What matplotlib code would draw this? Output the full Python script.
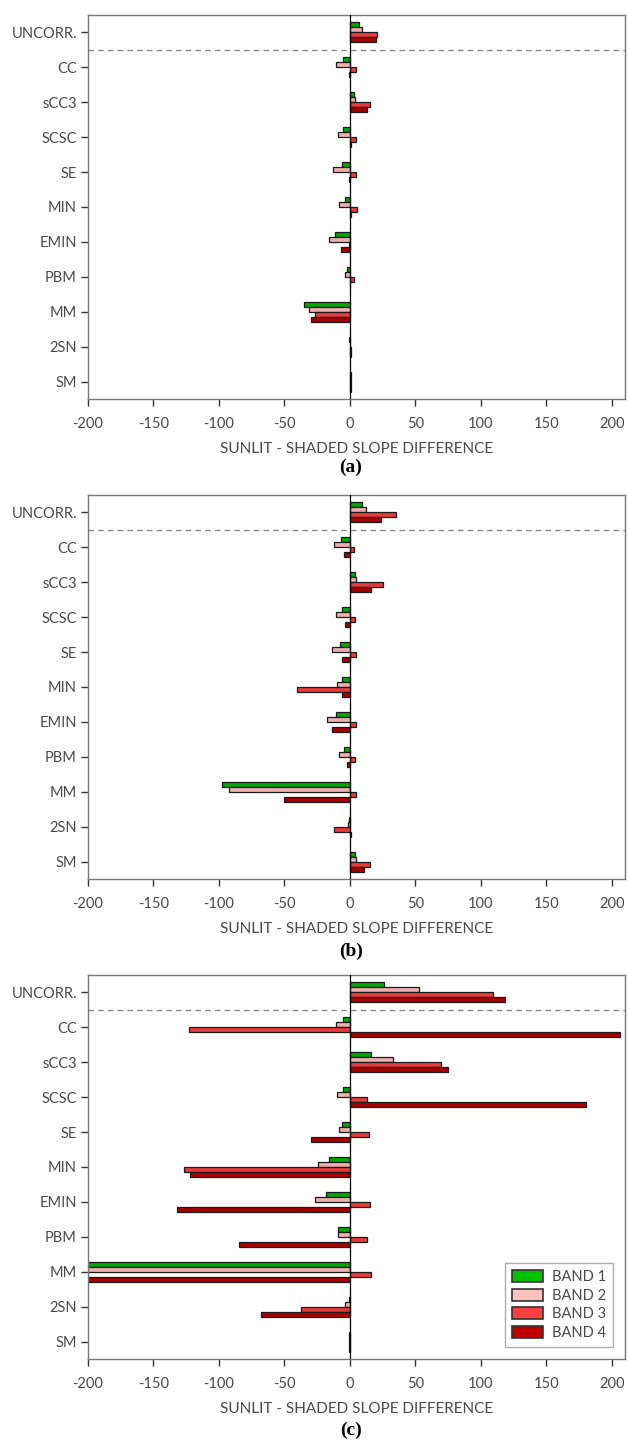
from matplotlib import pyplot as plt
from matplotlib.patches import Patch
import numpy as np

plt.rcParams['font.family'] = ['Lato', 'DejaVu Sans']
plt.rcParams['axes.unicode_minus'] = False

methods = ['UNCORR.', 'CC', 'sCC3', 'SCSC', 'SE', 'MIN', 'EMIN', 'PBM', 'MM', '2SN', 'SM']
bands = ['BAND 1', 'BAND 2', 'BAND 3', 'BAND 4']
legend_colors = ['#00C000', '#FFC0C0', '#FF4040', '#C00000']
bar_colors = ['#00AA00', '#EDB0B0', '#E83A3A', '#A80000']

# sunlit - shaded slope difference, one list per band (order of methods)
a_band1 = [7, -5, 3, -5, -6, -4, -11.5, -2.5, -35, -0.5, 0.5]
a_band2 = [9.5, -11, 3.5, -9, -13, -8, -16, -4, -31.5, -0.3, 0.8]
a_band3 = [21, 4.5, 15, 4.5, 4.5, 5.5, -0.5, 3, -27, 0.5, 1]
a_band4 = [20, -1, 13, 0.5, -1, 0.5, -7, 0.3, -29.5, 0.8, 1]

b_band1 = [9, -7, 4, -6, -7.5, -6, -11, -4.5, -98, -0.5, 4]
b_band2 = [12, -12, 4.5, -11, -14, -10, -17.5, -8, -92.5, -1.5, 4.5]
b_band3 = [35.5, 3, 25.5, 4, 4.5, -40.5, 4.5, 4, 4.5, -12, 15]
b_band4 = [24, -4.5, 16, -3.5, -6, -6, -14, -2.5, -50.5, 0.6, 10.5]

c_band1 = [26, -5.5, 16, -5, -6, -16, -18, -9, -215, -0.5, -0.5]
c_band2 = [53, -10.5, 33, -10, -8.5, -24.5, -27, -9, -215, -4, -0.5]
c_band3 = [109.5, -123, 69.5, 13, 14.5, -127, 15, 13, 16, -37, -1]
c_band4 = [118.5, 206, 74.5, 180.5, -30, -122, -132, -85, -215, -68, -1]

panels = [
    ('(a)', [a_band1, a_band2, a_band3, a_band4]),
    ('(b)', [b_band1, b_band2, b_band3, b_band4]),
    ('(c)', [c_band1, c_band2, c_band3, c_band4]),
]

fig = plt.figure(figsize=(6.28, 14.43), dpi=100)
W, H = 628.0, 1443.0
tops = [15, 495, 975]
label_gap = [68, 72, 71]
axh = 384
y = np.arange(len(methods))
bh = 0.143
txt = '#4a4a4a'

for (label, series), top, gap in zip(panels, tops, label_gap):
    ax = fig.add_axes([88 / W, 1 - (top + axh) / H, 537 / W, axh / H])
    for i, vals in enumerate(series):
        ax.barh(y + (i - 1.5) * bh, vals, height=bh, color=bar_colors[i],
                edgecolor='#1a1a1a', linewidth=0.9, zorder=2)
    ax.axvline(0, color='black', linewidth=0.9, zorder=3)
    ax.axhline(0.5, color='#888888', linestyle='--', linewidth=1.0, dashes=(4, 3), zorder=1)
    ax.set_xlim(-200, 210)
    ax.set_ylim(10.5, -0.5)
    ax.set_yticks(y)
    ax.set_yticklabels(methods)
    ax.set_xticks(np.arange(-200, 201, 50))
    ax.tick_params(axis='both', labelsize=10.5, colors='#333333', labelcolor=txt,
                   direction='out', length=5, width=1)
    ax.tick_params(axis='x', pad=8)
    ax.tick_params(axis='y', pad=3)
    for sp in ax.spines.values():
        sp.set_color('#777777')
        sp.set_linewidth(1.0)
    ax.set_xlabel('SUNLIT - SHADED SLOPE DIFFERENCE', fontsize=11, color=txt, labelpad=8)
    fig.text(351 / W, 1 - (top + axh + gap) / H, label, ha='center', va='center',
             fontsize=14, fontweight='bold', family='Liberation Serif')
    last = ax

handles = [Patch(facecolor=c, edgecolor='#333333', linewidth=1.2) for c in legend_colors]
leg = last.legend(handles, bands, loc='lower right', fontsize=10.5,
                  handlelength=2.1, handleheight=0.9, labelspacing=0.3,
                  handletextpad=0.6, fancybox=False, edgecolor='#999999',
                  borderpad=0.5, borderaxespad=0, bbox_to_anchor=(0.978, 0.031))
leg.get_frame().set_linewidth(1.0)
for t in leg.get_texts():
    t.set_color(txt)

fig.savefig('out.png', dpi=100)
